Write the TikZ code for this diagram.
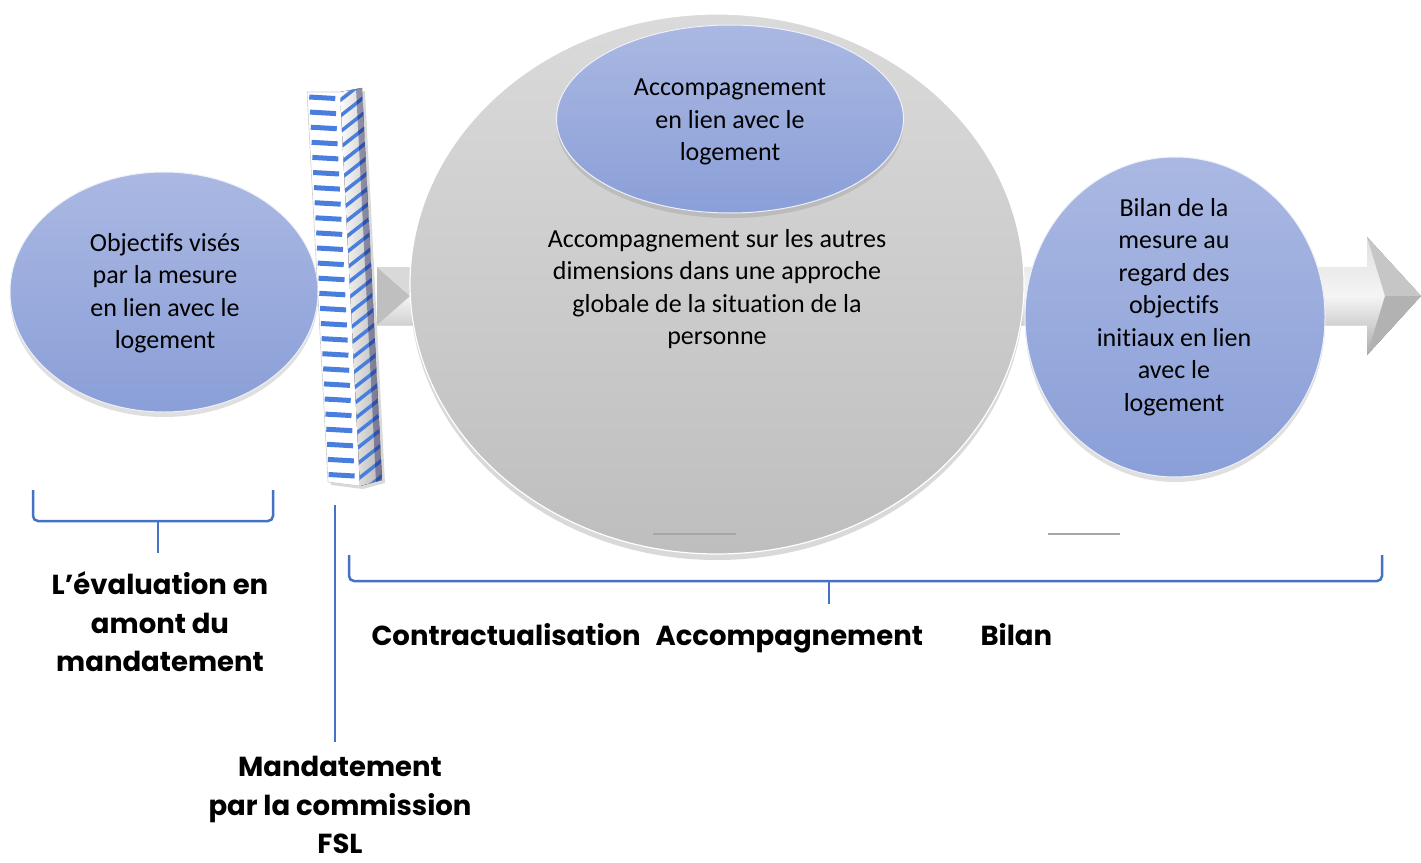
\documentclass[tikz,border=0pt]{standalone}
\usepackage{fontspec}
\setmainfont{Carlito}[Ligatures=NoCommon, RawFeature={-liga;-clig;-calt;-dlig}]
\newfontfamily\labfont{Poppins}
\usetikzlibrary{shadows,shapes.geometric}
\definecolor{bblue}{HTML}{4472C4}
\definecolor{stripe}{HTML}{4A7EDC}
\definecolor{eltop}{HTML}{AAB8E2}
\definecolor{elbot}{HTML}{8A9FD8}
\definecolor{grtop}{HTML}{DADADA}
\definecolor{grbot}{HTML}{BEBEBE}
\tikzset{
  blueell/.style={ellipse, draw=white!80!eltop, line width=1pt, top color=eltop, bottom color=elbot, inner sep=0pt,
     drop shadow={opacity=0.25, shadow xshift=0pt, shadow yshift=-5pt}},
  bodytext/.style={align=center, font=\fontsize{26}{32.5}\selectfont, text=black},
  labtext/.style={align=center, font=\labfont\bfseries\fontsize{27.5}{38.5}\selectfont, text=black},
  brace/.style={draw=bblue, line width=2.5pt, rounded corners=5pt},
  smallline/.style={draw=gray!70, line width=2.5pt}
}
\begin{document}
\begin{tikzpicture}[x=1pt,y=-1pt]
\useasboundingbox (0,0) rectangle (1421,862);

% ---- gray arrow behind ----
\fill[top color=gray!25, bottom color=gray!65, middle color=gray!8]
  (377,267) -- (1367,267) -- (1367,237) -- (1421,296) -- (1367,355) -- (1367,325) -- (377,325) -- cycle;
\fill[gray!50] (377,267) -- (410,296) -- (377,325) -- cycle;
\fill[gray!30] (377,267) -- (410,296) -- (410,267) -- cycle;
\fill[gray!45] (1367,237) -- (1421,296) -- (1385,296) -- cycle;
\fill[gray!60] (1367,355) -- (1421,296) -- (1385,296) -- cycle;

% ---- left ellipse ----
\node[blueell, minimum width=308pt, minimum height=240pt] (obj) at (164,292) {};
\node[bodytext] (objt) at (165,293) {Objectifs visés\\par la mesure\\en lien avec le\\logement};

% ---- striped bar ----
\coordinate (ftl) at (307,92);
\coordinate (ftr) at (340,92);
\coordinate (fbr) at (360,486);
\coordinate (fbl) at (328,482);
\coordinate (str) at (362,88);
\coordinate (sbr) at (382,480);
\fill[white, drop shadow={opacity=0.3, shadow xshift=3pt, shadow yshift=-3pt}] (ftl) -- (ftr) -- (str) -- (sbr) -- (fbr) -- (fbl) -- cycle;
\draw[gray!40, line width=0.6pt] (ftl) -- (ftr) -- (str) -- (sbr) -- (fbr) -- (fbl) -- cycle;
\begin{scope}
  \clip (ftl) -- (ftr) -- (fbr) -- (fbl) -- cycle;
  \foreach \i in {0,...,25} {
    \pgfmathsetmacro{\yy}{97+\i*15.1}
    \pgfmathsetmacro{\xl}{309+(\yy-92)*20/390}
    \draw[stripe, line width=5pt] (\xl,\yy) -- (\xl+26,\yy+1.5);
  }
\end{scope}
\begin{scope}
  \clip (ftr) -- (str) -- (sbr) -- (fbr) -- cycle;
  \fill[left color=white, right color=gray!60] (338,85) rectangle (384,490);
  \foreach \i in {0,...,27} {
    \pgfmathsetmacro{\yy}{92+\i*15.1}
    \pgfmathsetmacro{\xl}{340+(\yy-92)*20/390}
    \draw[stripe, line width=3.5pt] (\xl-2,\yy+10) -- (\xl+26,\yy-12);
  }
  \fill[black!70!blue, opacity=0.35] (356,88) -- (str) -- (sbr) -- (376,482) -- cycle;
\end{scope}

% ---- big gray circle ----
\node[ellipse, minimum width=614pt, minimum height=540pt, inner sep=0pt, draw=white, line width=1.2pt,
      top color=grtop, bottom color=grbot,
      drop shadow={opacity=0.3, shadow xshift=0pt, shadow yshift=-6pt}] (big) at (717,284) {};
\node[bodytext] (bigt) at (717,289) {Accompagnement sur les autres\\dimensions dans une approche\\globale de la situation de la\\personne};

% ---- top blue ellipse ----
\node[blueell, minimum width=347pt, minimum height=188pt] (top) at (730,119) {};
\node[bodytext] (topt) at (730,122) {Accompagnement\\en lien avec le\\logement};

% ---- right ellipse ----
\node[blueell, minimum width=300pt, minimum height=320pt] (bil) at (1175,317) {};
\node[bodytext] (bilt) at (1174,307) {Bilan de la\\mesure au\\regard des\\objectifs\\initiaux en lien\\avec le\\logement};

% ---- small gray lines ----
\coordinate (g1a) at (653,534); \coordinate (g1b) at (736,534);
\coordinate (g2a) at (1048,534); \coordinate (g2b) at (1120,534);
\draw[smallline] (g1a) -- (g1b);
\draw[smallline] (g2a) -- (g2b);

% ---- brackets ----
\coordinate (b1l) at (33,490); \coordinate (b1r) at (273,490);
\coordinate (b1m) at (158,521); \coordinate (b1t) at (158,553);
\draw[brace] (b1l) -- (33,521) -- (273,521) -- (b1r);
\draw[brace] (b1m) -- (b1t);

\coordinate (b2l) at (349,555); \coordinate (b2r) at (1382,555);
\coordinate (b2m) at (829,581); \coordinate (b2t) at (829,604);
\draw[brace] (b2l) -- (349,581) -- (1382,581) -- (b2r);
\draw[brace] (b2m) -- (b2t);

\coordinate (vt) at (335,505); \coordinate (vb) at (335,742);
\draw[draw=bblue, line width=2.5pt] (vt) -- (vb);

% ---- labels ----
\node[labtext] (eval) at (160,622) {L’évaluation en\\amont du\\mandatement};
\node[labtext, anchor=base west] (contr) at (368,645) {Contractualisation};
\node[labtext, anchor=base west] (accomp) at (652,645) {Accompagnement};
\node[labtext, anchor=base west] (bilan) at (977,645) {Bilan};
\node[labtext] (mand) at (340,805) {Mandatement\\par la commission\\FSL};
\end{tikzpicture}
\end{document}
